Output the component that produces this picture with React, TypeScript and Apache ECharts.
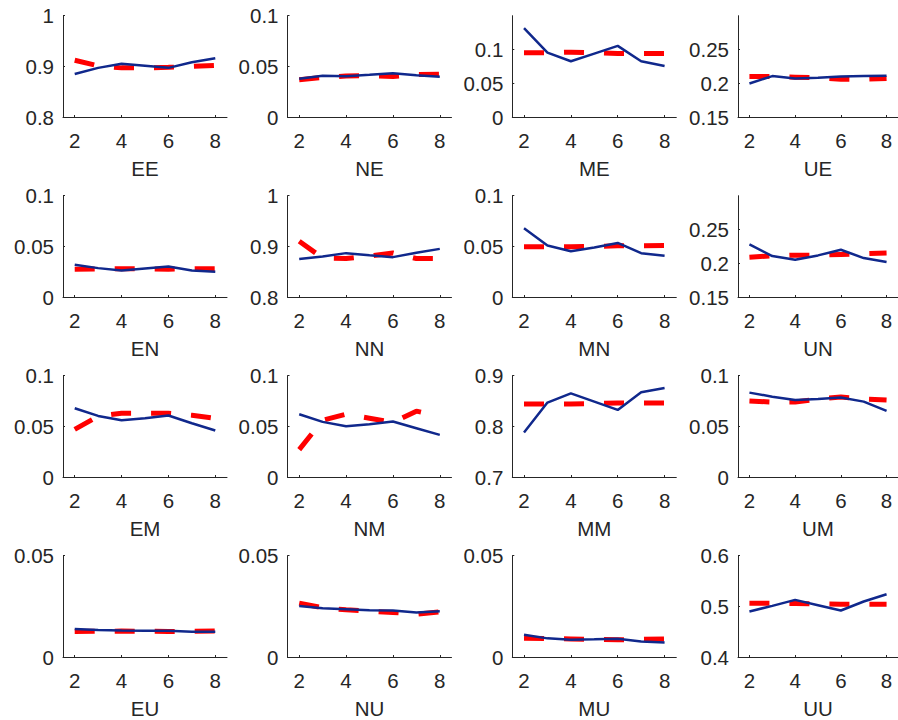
import React, { useEffect, useRef } from "react";
import * as echarts from "echarts";

const xValues = [2, 3, 4, 5, 6, 7, 8];
const xTickValues = [2, 4, 6, 8];

const panelNames = ["EE", "NE", "ME", "UE", "EN", "NN", "MN", "UN", "EM", "NM", "MM", "UM", "EU", "NU", "MU", "UU"];

const yMins = [0.8, 0, 0, 0.15, 0, 0.8, 0, 0.15, 0, 0, 0.7, 0, 0, 0, 0, 0.4];
const yMaxs = [1, 0.1, 0.15, 0.3, 0.1, 1, 0.1, 0.3, 0.1, 0.1, 0.9, 0.1, 0.05, 0.05, 0.05, 0.6];
const yTickLabels: number[][] = [
  [0.8, 0.9, 1], [0, 0.05, 0.1], [0, 0.05, 0.1], [0.15, 0.2, 0.25],
  [0, 0.05, 0.1], [0.8, 0.9, 1], [0, 0.05, 0.1], [0.15, 0.2, 0.25],
  [0, 0.05, 0.1], [0, 0.05, 0.1], [0.7, 0.8, 0.9], [0, 0.05, 0.1],
  [0, 0.05], [0, 0.05], [0, 0.05], [0.4, 0.5, 0.6],
];

// Solid blue lines (one row per panel)
const blueEE = [0.885, 0.897, 0.905, 0.901, 0.897, 0.908, 0.916];
const blueNE = [0.0377, 0.0407, 0.0403, 0.0416, 0.0433, 0.0413, 0.0397];
const blueME = [0.1316, 0.0954, 0.0825, 0.0939, 0.1053, 0.0825, 0.0755];
const blueUE = [0.1997, 0.2106, 0.207, 0.208, 0.21, 0.2106, 0.211];
const blueEN = [0.0318, 0.0285, 0.0262, 0.0282, 0.0302, 0.0262, 0.0249];
const blueNN = [0.8748, 0.88, 0.8866, 0.8826, 0.8787, 0.8872, 0.895];
const blueMN = [0.0679, 0.0508, 0.0452, 0.0489, 0.0534, 0.0433, 0.0407];
const blueUN = [0.228, 0.2106, 0.2051, 0.2116, 0.22, 0.2076, 0.2017];
const blueEM = [0.0679, 0.0603, 0.0561, 0.058, 0.0607, 0.0531, 0.0459];
const blueNM = [0.062, 0.0544, 0.0502, 0.0521, 0.0548, 0.0482, 0.0416];
const blueMM = [0.7879, 0.8469, 0.8652, 0.8489, 0.8325, 0.8672, 0.8757];
const blueUM = [0.0833, 0.0793, 0.0761, 0.077, 0.0784, 0.0744, 0.0652];
const blueEU = [0.0138, 0.0133, 0.0131, 0.013, 0.013, 0.0125, 0.0125];
const blueNU = [0.0252, 0.0241, 0.0236, 0.0231, 0.023, 0.022, 0.0226];
const blueMU = [0.011, 0.0092, 0.0085, 0.0087, 0.009, 0.0077, 0.0072];
const blueUU = [0.4898, 0.501, 0.5128, 0.5023, 0.4918, 0.5095, 0.5239];

// Dashed red lines (one row per panel)
const redEE = [0.912, 0.901, 0.897, 0.897, 0.898, 0.9, 0.902];
const redNE = [0.0367, 0.039, 0.0405, 0.041, 0.04, 0.042, 0.0423];
const redME = [0.095, 0.095, 0.096, 0.095, 0.094, 0.094, 0.094];
const redUE = [0.21, 0.21, 0.209, 0.208, 0.206, 0.206, 0.207];
const redEN = [0.0275, 0.0278, 0.028, 0.0278, 0.0275, 0.0278, 0.028];
const redNN = [0.91, 0.877, 0.876, 0.881, 0.887, 0.876, 0.876];
const redMN = [0.0495, 0.0495, 0.0495, 0.05, 0.0505, 0.0507, 0.0508];
const redUN = [0.209, 0.211, 0.212, 0.212, 0.213, 0.214, 0.215];
const redEM = [0.047, 0.06, 0.063, 0.063, 0.063, 0.061, 0.058];
const redNM = [0.027, 0.056, 0.062, 0.058, 0.054, 0.065, 0.06];
const redMM = [0.844, 0.844, 0.844, 0.845, 0.846, 0.846, 0.846];
const redUM = [0.075, 0.074, 0.074, 0.077, 0.079, 0.077, 0.076];
const redEU = [0.0126, 0.0127, 0.0128, 0.0127, 0.0126, 0.0127, 0.0128];
const redNU = [0.0266, 0.0243, 0.0233, 0.0226, 0.022, 0.0211, 0.0223];
const redMU = [0.0093, 0.0091, 0.0089, 0.0087, 0.0085, 0.0087, 0.0089];
const redUU = [0.5062, 0.506, 0.5056, 0.505, 0.5043, 0.5043, 0.5043];

const blueLines = [blueEE, blueNE, blueME, blueUE, blueEN, blueNN, blueMN, blueUN, blueEM, blueNM, blueMM, blueUM, blueEU, blueNU, blueMU, blueUU];
const redLines = [redEE, redNE, redME, redUE, redEN, redNN, redMN, redUN, redEM, redNM, redMM, redUM, redEU, redNU, redMU, redUU];

const colLefts = [63, 287.5, 512.3, 738];
const rowTops = [15.7, 195.7, 375.7, 555.7];
const gridW = 164;
const gridH = 101.3;

const TEXT = "#262626";
const FONT = "'Liberation Sans', Arial, Helvetica, sans-serif";

export default function App() {
  const ref = useRef<HTMLDivElement>(null);
  useEffect(() => {
    if (!ref.current) return;
    const chart = echarts.init(ref.current, null, { renderer: "svg" });
    const grids: any[] = [];
    const xAxes: any[] = [];
    const yAxes: any[] = [];
    const series: any[] = [];
    panelNames.forEach((name, i) => {
      const r = Math.floor(i / 4);
      const c = i % 4;
      grids.push({ left: colLefts[c], top: rowTops[r], width: gridW, height: gridH, containLabel: false });
      xAxes.push({
        type: "value",
        gridIndex: i,
        min: 1.5,
        max: 8.5,
        name,
        nameLocation: "middle",
        nameGap: 41,
        nameTextStyle: { color: TEXT, fontSize: 20.5, fontFamily: FONT },
        axisLine: { show: true, lineStyle: { color: TEXT, width: 1 } },
        axisTick: { show: true, inside: true, length: 2, customValues: xTickValues, lineStyle: { color: TEXT } },
        axisLabel: { show: true, customValues: xTickValues, color: TEXT, fontSize: 20.5, fontFamily: FONT, margin: 13 },
        splitLine: { show: false },
      });
      yAxes.push({
        type: "value",
        gridIndex: i,
        min: yMins[i],
        max: yMaxs[i],
        axisLine: { show: true, lineStyle: { color: TEXT, width: 1 } },
        axisTick: { show: true, inside: true, length: 2, customValues: yTickLabels[i], lineStyle: { color: TEXT } },
        axisLabel: { show: true, customValues: yTickLabels[i], color: TEXT, fontSize: 20.5, fontFamily: FONT, margin: 9 },
        splitLine: { show: false },
      });
      series.push({
        type: "line",
        xAxisIndex: i,
        yAxisIndex: i,
        data: xValues.map((x, k) => [x, redLines[i][k]]),
        symbol: "none",
        lineStyle: { color: "#ff0000", width: 5, type: [20, 20], cap: "butt" },
        z: 2,
      });
      series.push({
        type: "line",
        xAxisIndex: i,
        yAxisIndex: i,
        data: xValues.map((x, k) => [x, blueLines[i][k]]),
        symbol: "none",
        lineStyle: { color: "#10288c", width: 2.5 },
        z: 3,
      });
    });
    chart.setOption({
      animation: false,
      backgroundColor: "#ffffff",
      grid: grids,
      xAxis: xAxes,
      yAxis: yAxes,
      series,
    });
    return () => chart.dispose();
  }, []);
  return (
    <div
      ref={ref}
      style={{ position: "absolute", left: 0, top: 0, width: 898, height: 720, background: "#fff" }}
    />
  );
}
